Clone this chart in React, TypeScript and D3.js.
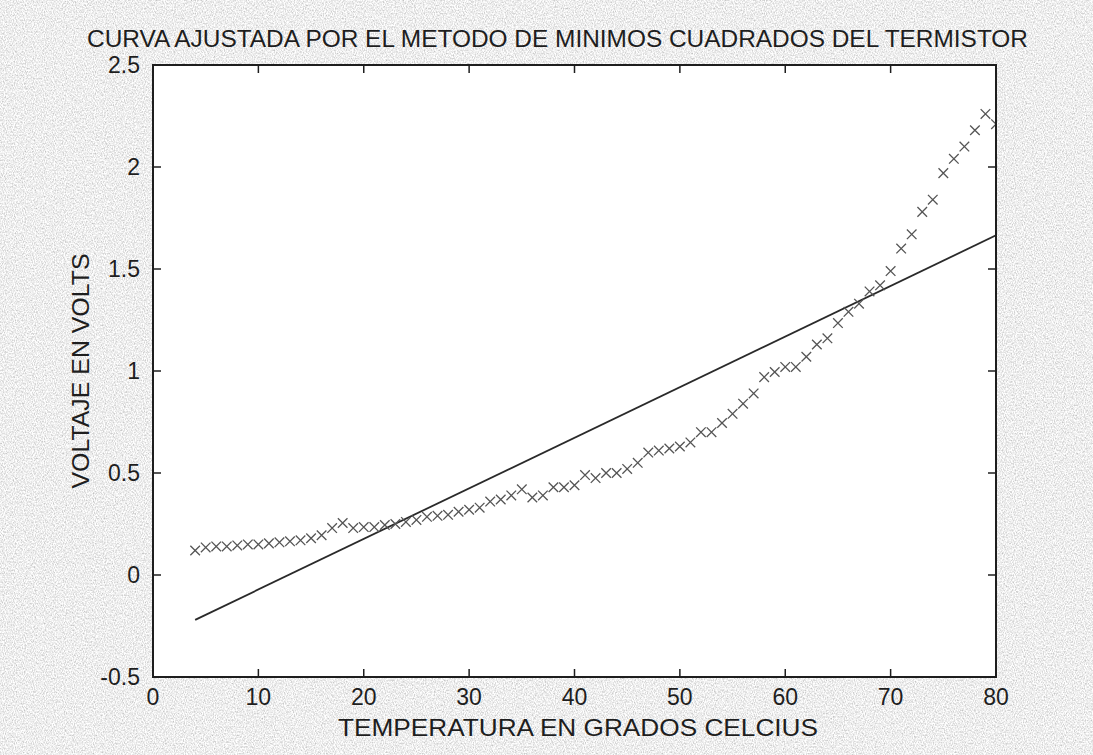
import React from "react";
import * as d3 from "d3";

const temps: number[] = d3.range(4, 81);
const volts: number[] = [
  0.12, 0.135, 0.14, 0.14, 0.145, 0.15, 0.15, 0.155, 0.16, 0.165,
  0.17, 0.18, 0.195, 0.23, 0.255, 0.23, 0.235, 0.235, 0.245, 0.25,
  0.26, 0.27, 0.285, 0.29, 0.295, 0.31, 0.32, 0.33, 0.36, 0.37,
  0.39, 0.42, 0.38, 0.39, 0.43, 0.43, 0.44, 0.49, 0.475, 0.5,
  0.5, 0.52, 0.55, 0.6, 0.61, 0.62, 0.63, 0.65, 0.7, 0.7,
  0.745, 0.79, 0.84, 0.89, 0.97, 0.995, 1.02, 1.02, 1.07, 1.13,
  1.16, 1.235, 1.29, 1.33, 1.39, 1.42, 1.49, 1.6, 1.67, 1.78,
  1.84, 1.97, 2.04, 2.1, 2.18, 2.26, 2.21,
];
const fitTemps: number[] = [4, 80];
const fitVolts: number[] = [-0.22, 1.665];
const xTicks: number[] = [0, 10, 20, 30, 40, 50, 60, 70, 80];
const yTicks: number[] = [-0.5, 0, 0.5, 1, 1.5, 2, 2.5];
const yTickLabels: string[] = ["-0.5", "0", "0.5", "1", "1.5", "2", "2.5"];

const TITLE = "CURVA AJUSTADA POR EL METODO DE MINIMOS CUADRADOS DEL TERMISTOR";
const XLABEL = "TEMPERATURA EN GRADOS CELCIUS";
const YLABEL = "VOLTAJE EN VOLTS";

export default function App() {
  const W = 1093, H = 755;
  const L = 153, R = 996, T = 65, B = 677;
  const x = d3.scaleLinear().domain([0, 80]).range([L, R]);
  const y = d3.scaleLinear().domain([-0.5, 2.5]).range([B, T]);
  const line = d3.line<number>().x((d, i) => x(fitTemps[i])).y((d) => y(d));
  const font = "'Liberation Sans', Arial, sans-serif";
  const ink = "#1e1e1e";
  const tick = 8;
  const m = 4.8;
  return (
    <svg width={W} height={H} style={{ position: "fixed", left: 0, top: 0, display: "block" }}>
      <defs>
        <filter id="noise" x="0" y="0" width="100%" height="100%">
          <feTurbulence type="fractalNoise" baseFrequency="0.9 0.6" numOctaves={2} seed={7} result="t" />
          <feColorMatrix in="t" type="matrix"
            values="1 0 0 0 0  1 0 0 0 0  1 0 0 0 0  0 0 0 0 1" result="g" />
          <feComponentTransfer in="g">
            <feFuncR type="linear" slope="0.85" intercept="0.43" />
            <feFuncG type="linear" slope="0.85" intercept="0.43" />
            <feFuncB type="linear" slope="0.85" intercept="0.43" />
          </feComponentTransfer>
        </filter>
        <clipPath id="plotclip">
          <rect x={L} y={T} width={R - L} height={B - T} />
        </clipPath>
      </defs>
      <rect x={0} y={0} width={W} height={H} fill="#d6d6d6" />
      <rect x={0} y={0} width={W} height={H} filter="url(#noise)" />
      <rect x={L} y={T} width={R - L} height={B - T} fill="#ffffff" />

      <g clipPath="url(#plotclip)">
        <path d={line(fitVolts) || ""} fill="none" stroke="#2a2a2a" strokeWidth={1.8} />
        {volts.map((v, i) => {
          const cx = x(temps[i]);
          const cy = y(v);
          return (
            <path key={i}
              d={`M${cx - m},${cy - m}L${cx + m},${cy + m}M${cx - m},${cy + m}L${cx + m},${cy - m}`}
              stroke="#555" strokeWidth={1.3} fill="none" />
          );
        })}
      </g>

      <rect x={L} y={T} width={R - L} height={B - T} fill="none" stroke={ink} strokeWidth={2} />
      {xTicks.map((t) => (
        <g key={"x" + t}>
          <line x1={x(t)} x2={x(t)} y1={B} y2={B - tick} stroke={ink} strokeWidth={1.5} />
          <line x1={x(t)} x2={x(t)} y1={T} y2={T + tick} stroke={ink} strokeWidth={1.5} />
          <text x={x(t)} y={B + 28} textAnchor="middle" fontFamily={font} fontSize={23} fill={ink}>{t}</text>
        </g>
      ))}
      {yTicks.map((t, i) => (
        <g key={"y" + t}>
          <line x1={L} x2={L + tick} y1={y(t)} y2={y(t)} stroke={ink} strokeWidth={1.5} />
          <line x1={R} x2={R - tick} y1={y(t)} y2={y(t)} stroke={ink} strokeWidth={1.5} />
          <text x={L - 13} y={y(t) + 8} textAnchor="end" fontFamily={font} fontSize={23} fill={ink}>{yTickLabels[i]}</text>
        </g>
      ))}

      <text x={87} y={47} textAnchor="start" fontFamily={font} fontSize={24} fill={ink}
        textLength={941} lengthAdjust="spacingAndGlyphs">{TITLE}</text>
      <text x={338} y={736} textAnchor="start" fontFamily={font} fontSize={24} fill={ink}
        textLength={480} lengthAdjust="spacingAndGlyphs">{XLABEL}</text>
      <text transform={`translate(89,371) rotate(-90)`} textAnchor="middle" fontFamily={font} fontSize={24} fill={ink}
        textLength={235} lengthAdjust="spacingAndGlyphs">{YLABEL}</text>
    </svg>
  );
}
